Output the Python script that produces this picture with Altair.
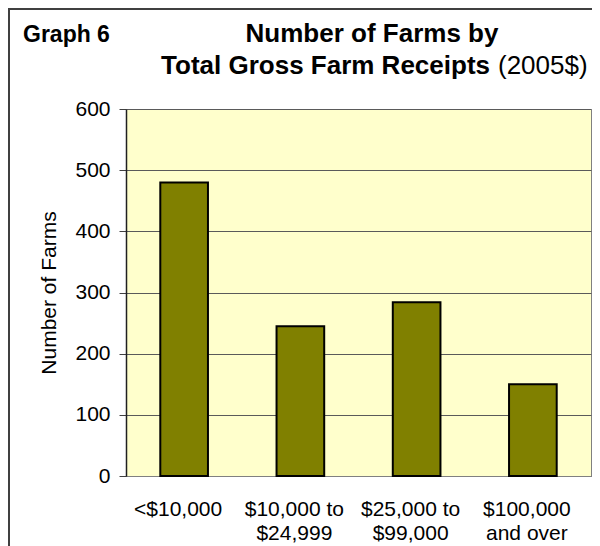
import altair as alt
import pandas as pd

# ---- data ----
categories = ["<$10,000", "$10,000 to\n$24,999", "$25,000 to\n$99,000", "$100,000\nand over"]
farms = [480, 245, 284, 150]
y_ticks = [0, 100, 200, 300, 400, 500, 600]

graph_label = ["Graph 6"]
title_line1 = ["Number of Farms by"]
title_line2_bold = ["Total Gross Farm Receipts"]
title_line2_plain = ["(2005$)"]
y_title = "Number of Farms"

FONT = "Liberation Sans"

df = pd.DataFrame({"category": categories, "farms": farms})

bars = alt.Chart(df).mark_bar(color="#808000", stroke="#000000", strokeWidth=2).encode(
    x=alt.X(
        "category:N",
        sort=categories,
        title=None,
        scale=alt.Scale(paddingInner=0.59, paddingOuter=0.295),
        axis=alt.Axis(
            labelExpr="split(datum.label, '\\n')",
            labelAngle=0,
            ticks=False,
            domainColor="#808080",
            domainWidth=1,
            labelFont=FONT,
            labelFontSize=21,
            labelLineHeight=24,
            labelPadding=22,
            labelOffset=-6,
            labelColor="#000000",
        ),
    ),
    y=alt.Y(
        "farms:Q",
        title=y_title,
        scale=alt.Scale(domain=[0, 600], nice=False),
        axis=alt.Axis(
            values=y_ticks,
            grid=True,
            gridColor="#5a5a5a",
            gridWidth=1,
            domainColor="#202020",
            domainWidth=1.5,
            tickColor="#404040",
            tickSize=7,
            labelFont=FONT,
            labelFontSize=21,
            labelColor="#000000",
            labelPadding=9,
            titleFont=FONT,
            titleFontSize=21,
            titleFontWeight="normal",
            titleColor="#000000",
            titlePadding=15,
        ),
    ),
)


def text_layer(values, x, y, size, weight, align):
    return alt.Chart(pd.DataFrame({"t": values})).mark_text(
        font=FONT, fontSize=size, fontWeight=weight, align=align,
        baseline="alphabetic", color="#000000",
    ).encode(text="t:N", x=alt.value(x), y=alt.value(y))


t_graph = text_layer(graph_label, -103, -67, 23, "bold", "left")
t_line1 = text_layer(title_line1, 246, -67, 26, "bold", "center")
t_line2a = text_layer(title_line2_bold, 364, -35, 26, "bold", "right")
t_line2b = text_layer(title_line2_plain, 372, -35, 26, "normal", "left")

frame = alt.Chart(pd.DataFrame({"d": [0]})).mark_rect(
    fillOpacity=0, stroke="#404040", strokeWidth=2
).encode(
    x=alt.value(-117), x2=alt.value(800), y=alt.value(-100), y2=alt.value(800)
)

chart = alt.layer(bars, t_graph, t_line1, t_line2a, t_line2b, frame).properties(
    width=465,
    height=367,
    padding={"left": 118, "top": 101, "right": 1, "bottom": 70},
    autosize=alt.AutoSizeParams(type="none"),
    background="#ffffff",
).configure_view(
    fill="#FFFFCC", stroke="#808080", strokeWidth=1
)

chart.save("out.html", embed_options={"renderer": "svg", "actions": False})
